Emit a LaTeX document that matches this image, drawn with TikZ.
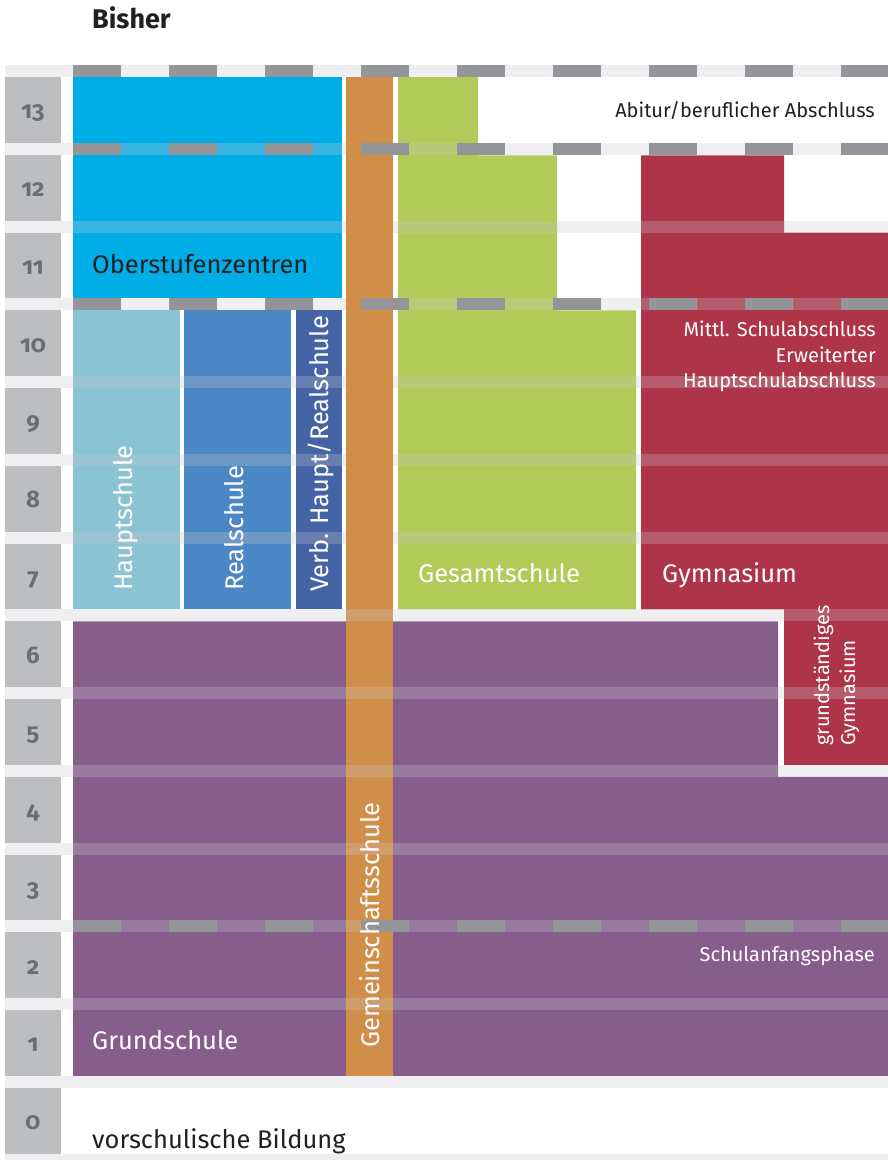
\documentclass[tikz,border=0pt]{standalone}
\usepackage{fontspec}
\setmainfont{Fira Sans}
\newfontfamily\numfont[Numbers=OldStyle]{Fira Sans}
\usetikzlibrary{positioning}
\definecolor{boxgray}{HTML}{BCBEC0}
\definecolor{numgray}{HTML}{6D6E71}
\definecolor{dashgray}{HTML}{939598}
\definecolor{overlaygray}{RGB}{200,200,205}
\definecolor{ozblue}{HTML}{00ADE6}
\definecolor{gsorange}{HTML}{D18E48}
\definecolor{gegreen}{HTML}{B2CB58}
\definecolor{gyred}{HTML}{AE3449}
\definecolor{hslight}{HTML}{8AC3D4}
\definecolor{rsblue}{HTML}{4C87C5}
\definecolor{vhblue}{HTML}{4464A6}
\definecolor{gspurple}{HTML}{875E8B}
\definecolor{textblack}{HTML}{231F20}
\tikzset{
  numlabel/.style={anchor=base, text=numgray, inner sep=0pt, font=\numfont\bfseries\fontsize{24}{24}\selectfont},
  biglabel/.style={inner sep=0pt, text=white, font=\fontsize{25.5}{30}\selectfont},
  smalllabel/.style={inner sep=0pt, text=white, font=\fontsize{20}{24}\selectfont},
  strip/.style={fill=overlaygray, fill opacity=0.28},
  stripdash/.style={fill=dashgray}
}

\begin{document}
\begin{tikzpicture}[x=1pt,y=-1pt]
\useasboundingbox (0,0) rectangle (888,1160);
\fill[white] (0,0) rectangle (888,1160);

% grade boxes on the left
\foreach \g in {0,...,13}{
  \pgfmathsetmacro\yt{65+(13-\g)*77.75+12}
  \pgfmathsetmacro\yb{65+(14-\g)*77.75}
  \fill[boxgray] (5,\yt) rectangle (61,\yb);
  \node[numlabel] (n\g) at (33,{(\yt+\yb)/2+9}) {\g};
}

% school blocks
\fill[ozblue] (73,77) rectangle (342,298.25);
\fill[gegreen] (398,77) -- (478,77) -- (478,155.25) -- (557,155.25) -- (557,310.25)
  -- (636,310.25) -- (636,609.25) -- (398,609.25) -- cycle;
\fill[gyred] (641,155.25) -- (784,155.25) -- (784,232.5) -- (888,232.5) -- (888,764.75)
  -- (784,764.75) -- (784,609.25) -- (641,609.25) -- cycle;
\fill[hslight] (73,310.25) rectangle (180,609.25);
\fill[rsblue] (184,310.25) rectangle (291,609.25);
\fill[vhblue] (296,310.25) rectangle (342,609.25);
\fill[gspurple] (73,621.25) -- (778,621.25) -- (778,776.75) -- (888,776.75)
  -- (888,1075.75) -- (73,1075.75) -- cycle;
\fill[gsorange] (346,77) rectangle (393,1075.75);

% light strips between the grades
\foreach \k in {0,...,14}
  \fill[strip] (5,{65+\k*77.75}) rectangle (888,{min(65+\k*77.75+12,1160)});
\fill[gsorange] (346,77) rectangle (393,609.25);

% dashed lines
\foreach \k in {0,1,3,11}
  \foreach \i in {0,...,8}
    \fill[stripdash] ({73+96*\i},{65+\k*77.75}) rectangle ({73+96*\i+48},{65+\k*77.75+12});

% labels
\node[anchor=base west, inner sep=0pt, text=textblack, font=\bfseries\fontsize{27}{30}\selectfont] (bisher) at (92,28) {Bisher};
\node[smalllabel, anchor=base east, text=textblack] (abitur) at (875,117) {Abitur/beruflicher Abschluss};
\node[biglabel, anchor=base west, text=textblack] (ozlabel) at (92,273) {Oberstufenzentren};
\node[biglabel, anchor=base west, rotate=90] (hslabel) at (132,591) {Hauptschule};
\node[biglabel, anchor=base west, rotate=90] (rslabel) at (243,591) {Realschule};
\node[biglabel, anchor=base west, rotate=90] (vhlabel) at (328,592) {Verb. Haupt/Realschule};
\node[biglabel, anchor=base west, rotate=90] (gmlabel) at (379,1048) {Gemeinschaftsschule};
\node[biglabel, anchor=base west] (gelabel) at (418,582) {Gesamtschule};
\node[biglabel, anchor=base west] (gylabel) at (662,582) {Gymnasium};
\node[smalllabel, anchor=base east] (msa) at (876,336) {Mittl. Schulabschluss};
\node[smalllabel, anchor=base east] (ewt) at (876,362) {Erweiterter};
\node[smalllabel, anchor=base east] (hsa) at (876,387) {Hauptschulabschluss};
\node[smalllabel, anchor=base west, rotate=90] (grund) at (829,746) {grundständiges};
\node[smalllabel, anchor=base west, rotate=90] (grgym) at (855,746) {Gymnasium};
\node[smalllabel, anchor=base east] (sap) at (875,961) {Schulanfangsphase};
\node[biglabel, anchor=base west] (gslabel) at (92,1049) {Grundschule};
\node[biglabel, anchor=base west, text=textblack] (vorlabel) at (92,1148) {vorschulische Bildung};
\end{tikzpicture}
\end{document}
